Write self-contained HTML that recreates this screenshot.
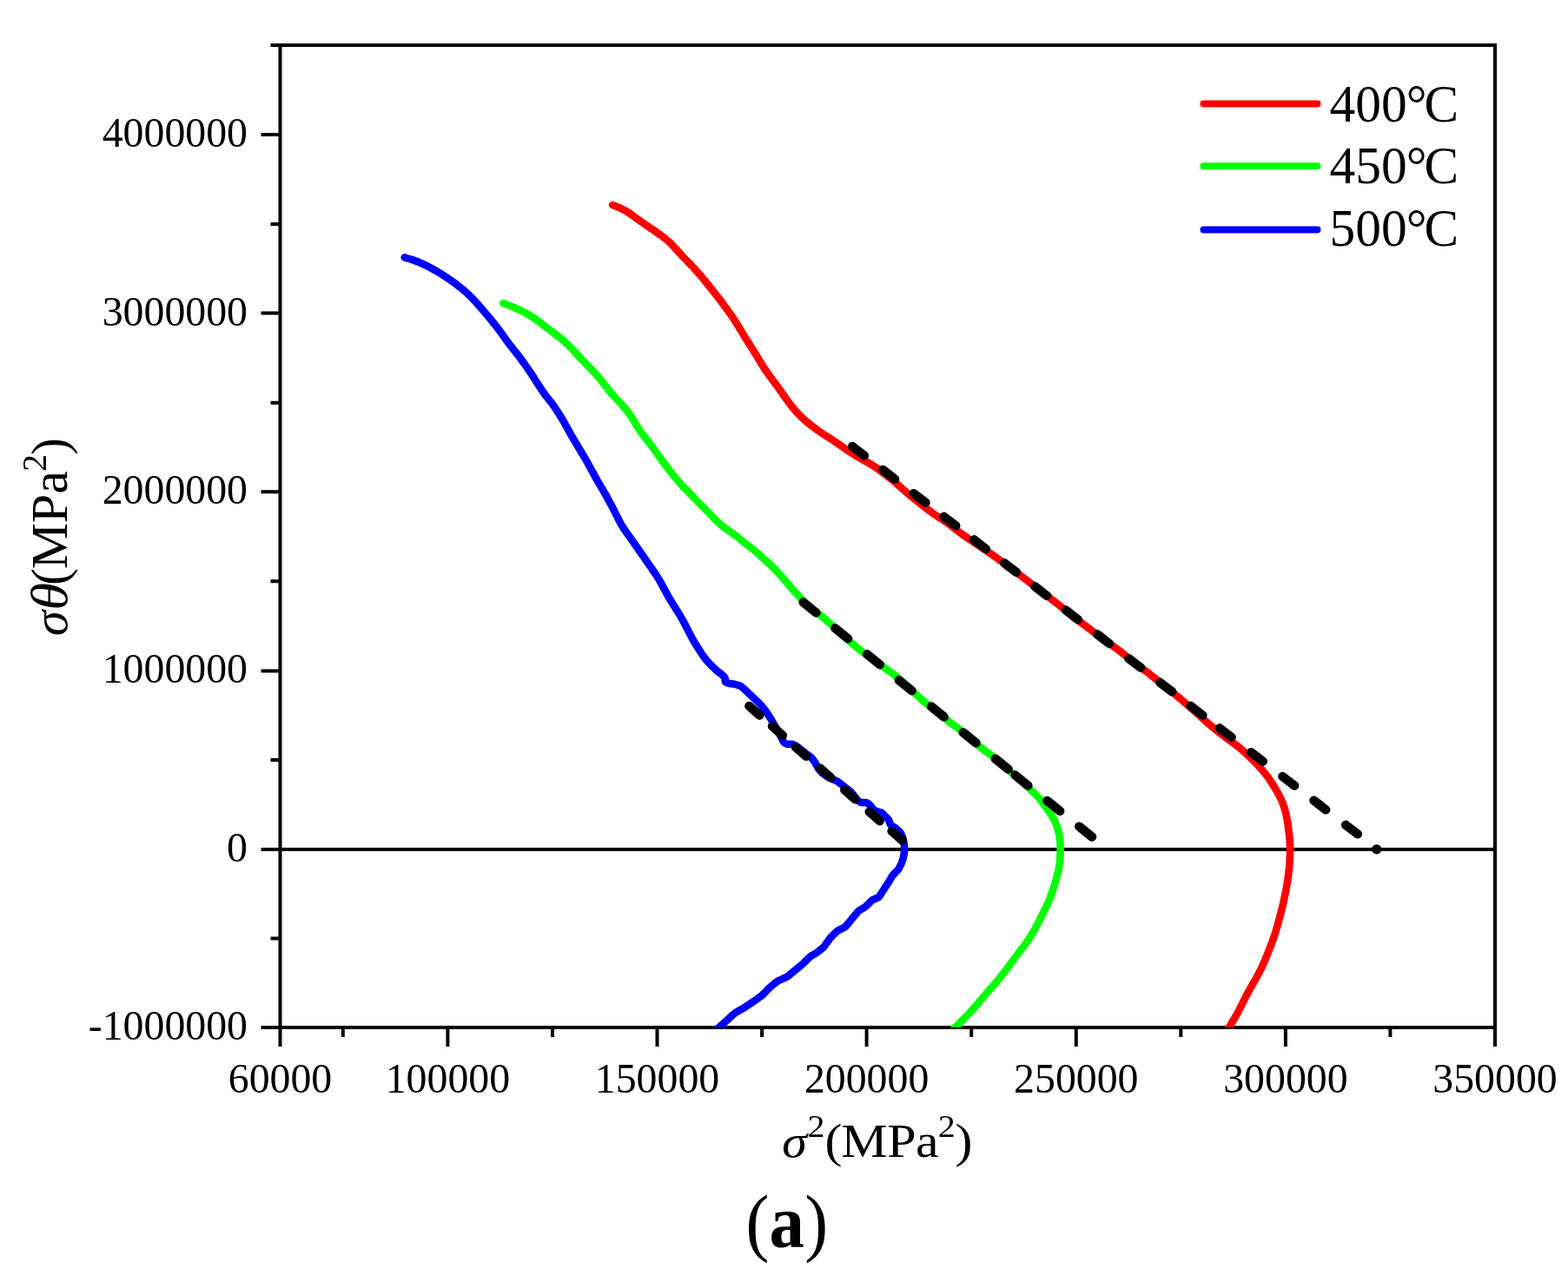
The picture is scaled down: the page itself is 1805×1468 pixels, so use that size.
<!DOCTYPE html>
<html lang="en"><head><meta charset="utf-8"><title>Figure (a)</title>
<style>
html,body{margin:0;padding:0;background:#fff;}
body{width:1805px;height:1468px;overflow:hidden;}
svg{display:block;}
text{font-family:"Liberation Serif","DejaVu Serif",serif;fill:#000;}
.tk{font-size:47.8px;}
.lg{font-size:61.5px;}
.ti{font-size:52px;}
.it{font-style:italic;}
</style></head><body>
<svg width="1805" height="1468" viewBox="0 0 1805 1468">
<rect x="0" y="0" width="1805" height="1468" fill="#ffffff"/>
<defs><clipPath id="plot"><rect x="322.5" y="52.0" width="1398.5" height="1131.0"/></clipPath></defs>
<g stroke="#000" stroke-width="4" fill="none" stroke-linecap="butt">
<path d="M322.5,52.0 H1721.0 V1183.0 H322.5 Z" stroke-linejoin="miter"/>
<path d="M322.5,978.0 H1721.0" stroke-width="4.1"/>
<path d="M300.5,1183.0 H322.5 M300.5,978.1 H322.5 M300.5,772.4 H322.5 M300.5,566.2 H322.5 M300.5,360.6 H322.5 M300.5,155.0 H322.5 M311.5,1080.5 H322.5 M311.5,874.9 H322.5 M311.5,669.3 H322.5 M311.5,463.7 H322.5 M311.5,258.1 H322.5 M311.5,52.0 H322.5"/>
<path d="M322.5,1183.0 V1205.0 M515.4,1183.0 V1205.0 M756.5,1183.0 V1205.0 M997.6,1183.0 V1205.0 M1238.8,1183.0 V1205.0 M1479.9,1183.0 V1205.0 M1721.0,1183.0 V1205.0 M394.8,1183.0 V1194.0 M636.0,1183.0 V1194.0 M877.1,1183.0 V1194.0 M1118.2,1183.0 V1194.0 M1359.3,1183.0 V1194.0 M1600.4,1183.0 V1194.0"/>
</g>
<g clip-path="url(#plot)" fill="none" stroke-linecap="round" stroke-linejoin="round" stroke-width="8.6">
<path stroke="#ff0000" d="M705.1,236.0C705.7,236.2 707.6,237.0 708.8,237.4C710.1,237.9 711.3,238.4 712.5,239.0C713.7,239.5 715.0,240.0 716.1,240.6C717.3,241.2 718.5,241.8 719.7,242.5C720.8,243.1 722.0,243.8 723.1,244.5C724.2,245.2 725.3,246.0 726.4,246.7C727.5,247.5 728.5,248.3 729.6,249.1C730.7,249.9 731.8,250.7 732.8,251.4C733.9,252.2 735.0,253.0 736.1,253.8C737.1,254.6 738.2,255.3 739.3,256.1C740.4,256.9 741.5,257.6 742.6,258.4C743.7,259.1 744.8,259.9 745.9,260.6C747.0,261.4 748.1,262.1 749.2,262.9C750.3,263.6 751.4,264.4 752.5,265.1C753.6,265.9 754.7,266.7 755.8,267.4C756.9,268.2 758.0,269.0 759.1,269.7C760.2,270.5 761.2,271.3 762.3,272.1C763.4,272.9 764.4,273.7 765.5,274.5C766.5,275.3 767.5,276.2 768.5,277.1C769.5,277.9 770.5,278.8 771.5,279.8C772.4,280.7 773.4,281.6 774.3,282.6C775.2,283.6 776.1,284.5 777.0,285.5C777.9,286.5 778.8,287.5 779.7,288.5C780.6,289.5 781.5,290.5 782.4,291.4C783.3,292.4 784.2,293.4 785.1,294.4C786.0,295.4 786.9,296.3 787.8,297.3C788.8,298.3 789.7,299.2 790.6,300.2C791.5,301.1 792.5,302.1 793.4,303.0C794.3,304.0 795.2,305.0 796.2,305.9C797.1,306.9 798.0,307.9 798.9,308.8C799.8,309.8 800.7,310.8 801.6,311.8C802.5,312.8 803.4,313.8 804.3,314.8C805.1,315.8 806.0,316.8 806.9,317.8C807.7,318.8 808.6,319.8 809.5,320.9C810.3,321.9 811.2,322.9 812.0,323.9C812.8,325.0 813.7,326.0 814.5,327.0C815.4,328.1 816.2,329.1 817.0,330.2C817.8,331.2 818.7,332.3 819.5,333.3C820.3,334.4 821.1,335.4 822.0,336.5C822.8,337.5 823.6,338.5 824.4,339.6C825.3,340.6 826.1,341.7 826.9,342.8C827.7,343.8 828.5,344.9 829.3,345.9C830.1,347.0 830.9,348.1 831.7,349.1C832.5,350.2 833.3,351.3 834.1,352.4C834.9,353.4 835.7,354.5 836.4,355.6C837.2,356.7 838.0,357.7 838.8,358.8C839.6,359.9 840.3,361.0 841.1,362.1C841.9,363.2 842.6,364.3 843.4,365.4C844.1,366.5 844.9,367.6 845.6,368.7C846.3,369.8 847.0,370.9 847.7,372.1C848.5,373.2 849.2,374.3 849.9,375.5C850.5,376.6 851.2,377.8 851.9,378.9C852.6,380.0 853.3,381.2 854.0,382.3C854.7,383.5 855.4,384.6 856.0,385.7C856.7,386.9 857.4,388.0 858.1,389.2C858.9,390.3 859.6,391.4 860.3,392.5C861.0,393.7 861.7,394.8 862.4,395.9C863.1,397.1 863.8,398.2 864.5,399.3C865.3,400.4 866.0,401.6 866.7,402.7C867.4,403.8 868.1,405.0 868.8,406.1C869.5,407.2 870.2,408.4 870.9,409.5C871.6,410.6 872.2,411.8 872.9,412.9C873.6,414.1 874.3,415.2 875.0,416.4C875.7,417.5 876.4,418.6 877.1,419.8C877.8,420.9 878.5,422.0 879.2,423.1C879.9,424.3 880.7,425.4 881.4,426.5C882.2,427.6 882.9,428.7 883.7,429.8C884.5,430.8 885.3,431.9 886.1,433.0C886.9,434.1 887.7,435.1 888.5,436.2C889.3,437.3 890.1,438.3 890.9,439.4C891.7,440.5 892.5,441.5 893.2,442.6C894.0,443.7 894.8,444.7 895.6,445.8C896.4,446.9 897.2,448.0 897.9,449.1C898.7,450.2 899.5,451.3 900.2,452.4C901.0,453.4 901.8,454.5 902.5,455.6C903.3,456.7 904.1,457.8 904.8,458.9C905.6,460.0 906.4,461.1 907.1,462.2C907.9,463.2 908.7,464.3 909.5,465.4C910.3,466.4 911.1,467.5 912.0,468.5C912.8,469.6 913.6,470.6 914.5,471.6C915.4,472.6 916.3,473.6 917.2,474.6C918.1,475.6 919.0,476.5 919.9,477.5C920.8,478.4 921.8,479.4 922.7,480.3C923.7,481.2 924.7,482.1 925.7,483.0C926.6,483.9 927.6,484.8 928.6,485.7C929.7,486.6 930.7,487.4 931.7,488.2C932.8,489.1 933.8,489.9 934.9,490.7C935.9,491.5 937.0,492.3 938.1,493.1C939.1,493.9 940.2,494.6 941.3,495.4C942.4,496.2 943.5,496.9 944.6,497.7C945.7,498.4 946.8,499.2 947.9,499.9C949.1,500.6 950.2,501.4 951.3,502.1C952.4,502.8 953.6,503.5 954.7,504.2C955.8,504.9 956.9,505.7 958.0,506.4C959.1,507.1 960.3,507.9 961.4,508.6C962.5,509.4 963.6,510.1 964.7,510.9C965.8,511.6 966.9,512.4 967.9,513.1C969.0,513.9 970.1,514.7 971.2,515.4C972.3,516.2 973.4,517.0 974.5,517.7C975.6,518.5 976.7,519.2 977.8,519.9C978.9,520.7 980.1,521.4 981.2,522.1C982.3,522.9 983.4,523.6 984.6,524.3C985.7,525.0 986.8,525.6 988.0,526.3C989.1,527.0 990.3,527.6 991.5,528.3C992.6,529.0 993.8,529.6 994.9,530.3C996.1,530.9 997.3,531.5 998.4,532.2C999.6,532.9 1000.8,533.5 1001.9,534.2C1003.0,534.9 1004.2,535.6 1005.3,536.3C1006.4,537.0 1007.5,537.7 1008.6,538.5C1009.7,539.3 1010.8,540.0 1011.9,540.8C1012.9,541.6 1014.0,542.4 1015.0,543.2C1016.1,544.1 1017.1,544.9 1018.2,545.7C1019.3,546.5 1020.3,547.3 1021.4,548.1C1022.4,549.0 1023.5,549.7 1024.5,550.6C1025.6,551.4 1026.6,552.2 1027.7,553.0C1028.7,553.9 1029.7,554.7 1030.7,555.6C1031.7,556.5 1032.7,557.3 1033.7,558.2C1034.7,559.1 1035.7,560.0 1036.7,560.9C1037.7,561.8 1038.7,562.7 1039.7,563.6C1040.7,564.5 1041.7,565.3 1042.7,566.2C1043.7,567.1 1044.7,567.9 1045.7,568.8C1046.8,569.6 1047.8,570.5 1048.8,571.3C1049.9,572.2 1050.9,573.0 1051.9,573.8C1053.0,574.7 1054.0,575.5 1055.1,576.3C1056.1,577.1 1057.2,578.0 1058.2,578.8C1059.2,579.6 1060.3,580.5 1061.3,581.3C1062.4,582.1 1063.4,583.0 1064.5,583.8C1065.5,584.6 1066.6,585.4 1067.6,586.3C1068.7,587.1 1069.7,587.9 1070.8,588.7C1071.8,589.5 1072.9,590.3 1074.0,591.1C1075.1,591.8 1076.2,592.6 1077.3,593.3C1078.4,594.1 1079.5,594.8 1080.6,595.5C1081.7,596.3 1082.9,597.0 1084.0,597.7C1085.1,598.4 1086.2,599.1 1087.3,599.9C1088.4,600.6 1089.5,601.4 1090.6,602.1C1091.7,602.9 1092.8,603.7 1093.8,604.5C1094.9,605.3 1096.0,606.1 1097.0,606.9C1098.1,607.7 1099.1,608.6 1100.2,609.4C1101.2,610.2 1102.2,611.0 1103.3,611.9C1104.4,612.7 1105.4,613.5 1106.5,614.3C1107.6,615.1 1108.6,615.9 1109.7,616.6C1110.8,617.4 1111.9,618.2 1113.0,618.9C1114.1,619.7 1115.2,620.4 1116.3,621.2C1117.4,621.9 1118.5,622.7 1119.6,623.4C1120.7,624.1 1121.8,624.9 1122.9,625.6C1124.1,626.4 1125.2,627.1 1126.3,627.9C1127.4,628.6 1128.5,629.4 1129.6,630.1C1130.7,630.8 1131.8,631.6 1132.9,632.3C1134.0,633.1 1135.1,633.8 1136.2,634.6C1137.3,635.3 1138.4,636.1 1139.5,636.8C1140.6,637.6 1141.7,638.4 1142.8,639.1C1143.9,639.9 1145.0,640.7 1146.1,641.4C1147.1,642.2 1148.2,643.0 1149.3,643.8C1150.4,644.6 1151.5,645.3 1152.5,646.1C1153.6,646.9 1154.7,647.7 1155.8,648.5C1156.8,649.3 1157.9,650.1 1159.0,650.9C1160.1,651.7 1161.1,652.4 1162.2,653.2C1163.3,654.0 1164.3,654.8 1165.4,655.6C1166.5,656.4 1167.6,657.2 1168.6,658.0C1169.7,658.8 1170.8,659.6 1171.8,660.4C1172.9,661.2 1174.0,662.0 1175.0,662.8C1176.1,663.6 1177.2,664.4 1178.2,665.2C1179.3,666.0 1180.4,666.8 1181.4,667.6C1182.5,668.4 1183.5,669.2 1184.6,670.1C1185.6,670.9 1186.7,671.7 1187.8,672.5C1188.8,673.3 1189.9,674.1 1190.9,674.9C1192.0,675.8 1193.0,676.6 1194.1,677.4C1195.1,678.2 1196.2,679.0 1197.3,679.8C1198.3,680.6 1199.4,681.4 1200.4,682.3C1201.5,683.1 1202.6,683.9 1203.6,684.7C1204.7,685.5 1205.7,686.3 1206.8,687.1C1207.8,687.9 1208.9,688.7 1210.0,689.6C1211.0,690.4 1212.1,691.2 1213.1,692.0C1214.2,692.8 1215.2,693.6 1216.3,694.4C1217.3,695.3 1218.4,696.1 1219.4,696.9C1220.5,697.7 1221.5,698.6 1222.6,699.4C1223.6,700.2 1224.7,701.0 1225.7,701.9C1226.8,702.7 1227.8,703.5 1228.9,704.3C1229.9,705.2 1231.0,706.0 1232.0,706.8C1233.0,707.7 1234.1,708.5 1235.1,709.3C1236.2,710.1 1237.2,711.0 1238.3,711.8C1239.3,712.6 1240.3,713.5 1241.4,714.3C1242.4,715.1 1243.5,716.0 1244.5,716.8C1245.6,717.6 1246.6,718.4 1247.7,719.2C1248.7,720.0 1249.8,720.8 1250.9,721.6C1251.9,722.4 1253.0,723.2 1254.1,724.0C1255.2,724.8 1256.2,725.6 1257.3,726.4C1258.4,727.2 1259.5,728.0 1260.5,728.7C1261.6,729.5 1262.7,730.3 1263.8,731.1C1264.9,731.9 1265.9,732.7 1267.0,733.4C1268.1,734.2 1269.2,735.0 1270.3,735.8C1271.3,736.6 1272.4,737.4 1273.5,738.1C1274.6,738.9 1275.6,739.7 1276.7,740.5C1277.8,741.3 1278.9,742.1 1280.0,742.9C1281.0,743.6 1282.1,744.4 1283.2,745.2C1284.3,746.0 1285.3,746.8 1286.4,747.6C1287.4,748.4 1288.5,749.2 1289.6,750.0C1290.6,750.9 1291.7,751.7 1292.7,752.5C1293.8,753.3 1294.8,754.2 1295.8,755.0C1296.9,755.8 1297.9,756.7 1299.0,757.5C1300.0,758.3 1301.0,759.2 1302.1,760.0C1303.1,760.8 1304.2,761.7 1305.2,762.5C1306.3,763.3 1307.3,764.1 1308.4,764.9C1309.5,765.7 1310.5,766.5 1311.6,767.3C1312.7,768.1 1313.7,768.9 1314.8,769.7C1315.9,770.5 1317.0,771.3 1318.0,772.1C1319.1,772.9 1320.2,773.7 1321.2,774.5C1322.3,775.3 1323.3,776.1 1324.4,776.9C1325.5,777.7 1326.5,778.5 1327.6,779.4C1328.6,780.2 1329.6,781.0 1330.7,781.9C1331.7,782.7 1332.8,783.5 1333.8,784.4C1334.8,785.2 1335.9,786.0 1336.9,786.9C1337.9,787.7 1339.0,788.6 1340.0,789.4C1341.1,790.2 1342.1,791.1 1343.1,791.9C1344.2,792.7 1345.2,793.6 1346.2,794.4C1347.3,795.2 1348.3,796.1 1349.4,796.9C1350.4,797.7 1351.4,798.6 1352.5,799.4C1353.5,800.3 1354.6,801.1 1355.6,801.9C1356.6,802.8 1357.7,803.6 1358.7,804.5C1359.7,805.3 1360.7,806.2 1361.7,807.1C1362.8,807.9 1363.8,808.8 1364.8,809.7C1365.8,810.5 1366.8,811.4 1367.8,812.3C1368.8,813.2 1369.8,814.0 1370.8,814.9C1371.8,815.8 1372.8,816.7 1373.8,817.6C1374.8,818.5 1375.8,819.4 1376.8,820.2C1377.8,821.1 1378.7,822.0 1379.7,822.9C1380.7,823.8 1381.7,824.7 1382.7,825.6C1383.7,826.5 1384.7,827.4 1385.6,828.3C1386.6,829.2 1387.6,830.1 1388.6,831.0C1389.6,831.9 1390.6,832.8 1391.6,833.6C1392.6,834.5 1393.7,835.4 1394.7,836.2C1395.7,837.1 1396.7,837.9 1397.8,838.8C1398.8,839.6 1399.8,840.5 1400.9,841.3C1401.9,842.1 1402.9,843.0 1404.0,843.8C1405.0,844.6 1406.1,845.4 1407.2,846.2C1408.2,847.0 1409.3,847.8 1410.4,848.6C1411.4,849.4 1412.5,850.2 1413.6,851.0C1414.7,851.7 1415.8,852.5 1416.8,853.3C1417.9,854.1 1419.0,854.9 1420.1,855.7C1421.1,856.5 1422.2,857.3 1423.2,858.1C1424.3,858.9 1425.3,859.7 1426.4,860.6C1427.4,861.4 1428.4,862.3 1429.4,863.1C1430.5,864.0 1431.5,864.9 1432.4,865.8C1433.4,866.7 1434.4,867.6 1435.4,868.5C1436.4,869.4 1437.3,870.3 1438.3,871.2C1439.2,872.2 1440.2,873.1 1441.1,874.0C1442.1,875.0 1443.0,875.9 1444.0,876.9C1444.9,877.8 1445.8,878.8 1446.8,879.7C1447.7,880.7 1448.6,881.7 1449.5,882.6C1450.4,883.6 1451.3,884.6 1452.2,885.6C1453.1,886.6 1453.9,887.6 1454.8,888.6C1455.6,889.7 1456.5,890.7 1457.3,891.7C1458.1,892.8 1458.9,893.8 1459.7,894.9C1460.5,896.0 1461.2,897.1 1462.0,898.2C1462.7,899.3 1463.4,900.4 1464.1,901.6C1464.8,902.7 1465.5,903.8 1466.2,905.0C1466.9,906.1 1467.6,907.2 1468.3,908.4C1468.9,909.5 1469.6,910.7 1470.3,911.9C1470.9,913.0 1471.6,914.2 1472.2,915.4C1472.8,916.5 1473.4,917.7 1474.0,918.9C1474.6,920.1 1475.1,921.3 1475.7,922.5C1476.2,923.8 1476.7,925.0 1477.1,926.2C1477.6,927.5 1478.0,928.8 1478.4,930.0C1478.8,931.3 1479.2,932.6 1479.5,933.9C1479.8,935.1 1480.2,936.4 1480.5,937.7C1480.7,939.0 1481.0,940.3 1481.3,941.6C1481.5,943.0 1481.8,944.3 1482.0,945.6C1482.2,946.9 1482.4,948.2 1482.6,949.5C1482.8,950.9 1482.9,952.2 1483.1,953.5C1483.3,954.8 1483.5,956.1 1483.6,957.5C1483.8,958.8 1483.9,960.1 1484.1,961.4C1484.2,962.8 1484.4,964.1 1484.5,965.4C1484.6,966.7 1484.7,968.1 1484.8,969.4C1484.9,970.7 1485.0,972.0 1485.0,973.4C1485.1,974.7 1485.1,976.0 1485.1,977.4C1485.1,978.7 1485.1,980.0 1485.0,981.4C1485.0,982.7 1485.0,984.0 1484.9,985.4C1484.9,986.7 1484.8,988.0 1484.7,989.4C1484.7,990.7 1484.6,992.0 1484.5,993.3C1484.4,994.7 1484.3,996.0 1484.2,997.3C1484.1,998.7 1483.9,1000.0 1483.8,1001.3C1483.7,1002.6 1483.5,1004.0 1483.4,1005.3C1483.2,1006.6 1483.0,1007.9 1482.9,1009.3C1482.7,1010.6 1482.5,1011.9 1482.3,1013.2C1482.1,1014.5 1481.9,1015.8 1481.7,1017.2C1481.4,1018.5 1481.2,1019.8 1481.0,1021.1C1480.7,1022.4 1480.5,1023.7 1480.3,1025.0C1480.0,1026.3 1479.8,1027.7 1479.5,1029.0C1479.3,1030.3 1479.0,1031.6 1478.7,1032.9C1478.5,1034.2 1478.2,1035.5 1477.9,1036.8C1477.6,1038.1 1477.3,1039.4 1477.0,1040.7C1476.7,1042.0 1476.4,1043.3 1476.1,1044.6C1475.7,1045.9 1475.4,1047.2 1475.1,1048.5C1474.8,1049.7 1474.4,1051.0 1474.1,1052.3C1473.8,1053.6 1473.4,1054.9 1473.1,1056.2C1472.7,1057.5 1472.4,1058.8 1472.1,1060.1C1471.7,1061.4 1471.4,1062.6 1471.0,1063.9C1470.7,1065.2 1470.3,1066.5 1469.9,1067.8C1469.5,1069.1 1469.2,1070.3 1468.8,1071.6C1468.4,1072.9 1468.0,1074.1 1467.6,1075.4C1467.1,1076.7 1466.7,1077.9 1466.3,1079.2C1465.9,1080.5 1465.4,1081.7 1465.0,1083.0C1464.5,1084.2 1464.1,1085.5 1463.6,1086.7C1463.1,1088.0 1462.7,1089.2 1462.2,1090.5C1461.7,1091.7 1461.2,1093.0 1460.7,1094.2C1460.3,1095.5 1459.8,1096.7 1459.3,1097.9C1458.8,1099.2 1458.3,1100.4 1457.8,1101.6C1457.3,1102.9 1456.8,1104.1 1456.2,1105.3C1455.7,1106.6 1455.2,1107.8 1454.6,1109.0C1454.1,1110.2 1453.6,1111.4 1453.0,1112.6C1452.4,1113.9 1451.9,1115.1 1451.3,1116.3C1450.7,1117.4 1450.1,1118.6 1449.5,1119.8C1448.9,1121.0 1448.2,1122.2 1447.6,1123.3C1447.0,1124.5 1446.3,1125.7 1445.7,1126.8C1445.0,1128.0 1444.3,1129.2 1443.7,1130.3C1443.0,1131.5 1442.4,1132.6 1441.7,1133.8C1441.0,1134.9 1440.4,1136.1 1439.7,1137.3C1439.1,1138.4 1438.4,1139.6 1437.8,1140.8C1437.1,1141.9 1436.5,1143.1 1435.9,1144.3C1435.2,1145.4 1434.6,1146.6 1434.0,1147.8C1433.4,1149.0 1432.8,1150.2 1432.2,1151.4C1431.6,1152.6 1431.0,1153.8 1430.4,1155.0C1429.8,1156.1 1429.2,1157.3 1428.6,1158.5C1428.0,1159.7 1427.4,1160.9 1426.8,1162.1C1426.2,1163.3 1425.6,1164.5 1425.0,1165.6C1424.3,1166.8 1423.7,1168.0 1423.0,1169.1C1422.4,1170.3 1421.7,1171.5 1421.0,1172.6C1420.4,1173.8 1419.7,1174.9 1419.0,1176.0C1418.3,1177.2 1417.6,1178.3 1416.9,1179.4C1416.2,1180.6 1415.5,1181.7 1414.8,1182.8C1414.1,1184.0 1413.3,1185.3 1412.7,1186.2C1412.1,1187.2 1411.4,1188.4 1411.1,1188.8"/>
<path stroke="#00ff00" d="M579.2,349.2C579.8,349.4 581.7,350.1 583.0,350.5C584.2,351.0 585.5,351.4 586.7,351.9C588.0,352.4 589.2,352.9 590.4,353.4C591.6,353.9 592.9,354.5 594.1,355.0C595.3,355.6 596.5,356.2 597.7,356.7C598.9,357.3 600.1,357.9 601.3,358.5C602.5,359.1 603.6,359.7 604.8,360.4C606.0,361.0 607.2,361.6 608.3,362.3C609.5,362.9 610.6,363.6 611.8,364.3C612.9,365.0 614.0,365.7 615.1,366.5C616.2,367.2 617.3,368.0 618.3,368.8C619.4,369.6 620.5,370.4 621.5,371.2C622.6,372.0 623.6,372.9 624.7,373.7C625.7,374.5 626.8,375.3 627.8,376.1C628.9,376.9 629.9,377.7 631.0,378.5C632.1,379.3 633.2,380.1 634.2,380.9C635.3,381.7 636.4,382.5 637.5,383.3C638.5,384.1 639.6,384.9 640.6,385.7C641.7,386.5 642.7,387.3 643.8,388.2C644.8,389.0 645.8,389.9 646.8,390.7C647.9,391.6 648.9,392.4 649.9,393.3C650.9,394.2 651.9,395.1 652.8,396.0C653.8,396.9 654.8,397.8 655.7,398.7C656.7,399.7 657.6,400.6 658.5,401.6C659.5,402.5 660.3,403.5 661.2,404.5C662.1,405.5 663.0,406.5 663.9,407.5C664.8,408.5 665.7,409.5 666.6,410.5C667.5,411.5 668.4,412.4 669.3,413.4C670.2,414.4 671.1,415.3 672.1,416.3C673.0,417.3 673.9,418.2 674.9,419.1C675.8,420.1 676.7,421.0 677.7,422.0C678.6,422.9 679.5,423.9 680.5,424.9C681.4,425.8 682.3,426.8 683.2,427.8C684.1,428.7 685.0,429.7 685.9,430.7C686.8,431.7 687.6,432.7 688.5,433.7C689.4,434.8 690.2,435.8 691.1,436.8C691.9,437.8 692.7,438.9 693.6,439.9C694.4,441.0 695.2,442.1 696.0,443.1C696.8,444.2 697.6,445.2 698.4,446.3C699.2,447.3 700.0,448.4 700.9,449.4C701.7,450.5 702.6,451.5 703.4,452.5C704.3,453.5 705.2,454.5 706.1,455.5C707.0,456.5 707.9,457.4 708.8,458.4C709.7,459.4 710.7,460.3 711.6,461.3C712.5,462.3 713.4,463.2 714.3,464.2C715.2,465.2 716.1,466.2 717.0,467.2C717.9,468.2 718.8,469.2 719.6,470.2C720.5,471.2 721.3,472.2 722.1,473.3C722.9,474.3 723.7,475.4 724.5,476.5C725.3,477.6 726.0,478.7 726.7,479.8C727.4,480.9 728.1,482.1 728.8,483.2C729.5,484.3 730.2,485.5 730.9,486.6C731.6,487.8 732.2,488.9 732.9,490.0C733.6,491.2 734.4,492.3 735.1,493.4C735.8,494.5 736.6,495.6 737.3,496.7C738.1,497.8 738.9,498.9 739.7,499.9C740.5,501.0 741.3,502.1 742.1,503.1C742.9,504.2 743.8,505.2 744.6,506.3C745.4,507.3 746.2,508.4 747.0,509.4C747.8,510.5 748.7,511.5 749.5,512.6C750.3,513.7 751.1,514.7 751.9,515.8C752.7,516.9 753.4,517.9 754.2,519.0C755.0,520.1 755.7,521.2 756.5,522.3C757.3,523.4 758.0,524.5 758.8,525.6C759.5,526.7 760.3,527.8 761.1,528.8C761.9,529.9 762.7,531.0 763.5,532.0C764.3,533.1 765.1,534.2 765.9,535.2C766.7,536.3 767.5,537.4 768.3,538.4C769.1,539.5 769.9,540.5 770.7,541.6C771.5,542.7 772.4,543.7 773.2,544.8C774.0,545.8 774.8,546.9 775.7,547.9C776.5,548.9 777.3,550.0 778.2,551.0C779.0,552.0 779.9,553.0 780.8,554.0C781.7,555.0 782.6,556.0 783.5,557.0C784.4,558.0 785.3,558.9 786.2,559.9C787.1,560.9 788.1,561.8 789.0,562.8C789.9,563.7 790.9,564.6 791.8,565.6C792.8,566.6 793.7,567.5 794.6,568.5C795.5,569.4 796.4,570.4 797.3,571.4C798.3,572.3 799.2,573.3 800.1,574.3C801.0,575.3 801.9,576.2 802.8,577.2C803.8,578.1 804.7,579.1 805.6,580.0C806.6,581.0 807.5,581.9 808.5,582.9C809.4,583.8 810.3,584.8 811.3,585.7C812.2,586.7 813.2,587.6 814.1,588.5C815.1,589.5 816.0,590.4 816.9,591.4C817.9,592.3 818.8,593.3 819.7,594.3C820.6,595.2 821.5,596.2 822.5,597.1C823.4,598.1 824.3,599.1 825.3,600.0C826.2,600.9 827.2,601.9 828.1,602.7C829.1,603.6 830.1,604.5 831.2,605.3C832.2,606.1 833.3,606.9 834.3,607.7C835.4,608.5 836.5,609.3 837.6,610.0C838.7,610.8 839.8,611.5 840.9,612.3C842.0,613.0 843.1,613.8 844.1,614.6C845.2,615.4 846.3,616.2 847.3,617.0C848.4,617.8 849.4,618.7 850.5,619.5C851.5,620.3 852.5,621.2 853.5,622.0C854.6,622.9 855.6,623.7 856.6,624.6C857.7,625.4 858.7,626.2 859.8,627.0C860.8,627.8 861.9,628.6 863.0,629.4C864.0,630.3 865.1,631.1 866.1,631.9C867.2,632.7 868.2,633.6 869.2,634.4C870.2,635.3 871.2,636.2 872.2,637.0C873.2,637.9 874.2,638.8 875.2,639.7C876.2,640.6 877.1,641.5 878.1,642.4C879.1,643.3 880.1,644.2 881.1,645.1C882.1,646.0 883.1,646.8 884.1,647.7C885.1,648.6 886.1,649.5 887.0,650.4C888.0,651.4 888.9,652.3 889.9,653.2C890.8,654.2 891.7,655.1 892.7,656.1C893.6,657.1 894.5,658.0 895.4,659.0C896.3,660.0 897.2,661.0 898.1,662.0C899.0,662.9 899.9,663.9 900.8,664.9C901.7,665.9 902.6,666.9 903.4,667.9C904.3,668.9 905.1,670.0 906.0,671.0C906.9,672.0 907.7,673.0 908.6,674.0C909.4,675.1 910.3,676.1 911.2,677.1C912.0,678.1 912.9,679.1 913.8,680.1C914.7,681.1 915.6,682.1 916.5,683.1C917.4,684.0 918.2,685.0 919.2,686.0C920.1,687.0 921.0,688.0 921.9,688.9C922.8,689.9 923.7,690.8 924.7,691.8C925.6,692.7 926.6,693.6 927.6,694.5C928.6,695.4 929.6,696.3 930.6,697.2C931.6,698.1 932.6,698.9 933.6,699.8C934.6,700.7 935.6,701.5 936.7,702.3C937.7,703.2 938.8,704.0 939.8,704.8C940.8,705.7 941.9,706.5 942.9,707.3C944.0,708.1 945.0,709.0 946.1,709.8C947.1,710.6 948.1,711.5 949.2,712.3C950.2,713.2 951.2,714.0 952.2,714.9C953.3,715.8 954.3,716.6 955.2,717.5C956.2,718.4 957.2,719.3 958.2,720.2C959.2,721.1 960.1,722.1 961.1,723.0C962.1,723.9 963.0,724.8 964.0,725.7C964.9,726.7 965.9,727.6 966.9,728.5C967.8,729.4 968.8,730.3 969.8,731.2C970.8,732.1 971.8,733.0 972.8,733.9C973.8,734.8 974.8,735.6 975.8,736.5C976.8,737.4 977.8,738.2 978.8,739.1C979.9,740.0 980.9,740.8 981.9,741.7C982.9,742.6 983.9,743.4 984.9,744.3C986.0,745.1 987.0,746.0 988.0,746.8C989.1,747.6 990.1,748.5 991.2,749.3C992.2,750.1 993.3,750.9 994.4,751.7C995.4,752.5 996.5,753.3 997.6,754.1C998.7,754.9 999.7,755.6 1000.8,756.4C1001.9,757.2 1003.0,758.0 1004.1,758.8C1005.1,759.5 1006.2,760.3 1007.3,761.1C1008.4,761.9 1009.5,762.7 1010.5,763.5C1011.6,764.2 1012.7,765.0 1013.8,765.8C1014.9,766.6 1015.9,767.4 1017.0,768.1C1018.1,768.9 1019.2,769.7 1020.3,770.4C1021.4,771.2 1022.5,772.0 1023.6,772.7C1024.7,773.5 1025.8,774.2 1026.8,775.0C1027.9,775.8 1029.0,776.6 1030.0,777.4C1031.1,778.2 1032.1,779.1 1033.1,779.9C1034.1,780.8 1035.2,781.6 1036.1,782.5C1037.1,783.4 1038.1,784.3 1039.1,785.2C1040.1,786.1 1041.1,787.0 1042.0,788.0C1043.0,788.9 1043.9,789.8 1044.9,790.7C1045.8,791.7 1046.8,792.6 1047.8,793.5C1048.7,794.4 1049.7,795.3 1050.7,796.2C1051.7,797.1 1052.6,798.0 1053.6,798.9C1054.6,799.8 1055.7,800.7 1056.7,801.5C1057.7,802.4 1058.7,803.3 1059.7,804.2C1060.7,805.0 1061.7,805.9 1062.7,806.8C1063.7,807.7 1064.7,808.6 1065.7,809.4C1066.7,810.3 1067.7,811.1 1068.8,811.9C1069.8,812.8 1070.9,813.6 1071.9,814.4C1073.0,815.2 1074.0,816.0 1075.1,816.9C1076.1,817.7 1077.2,818.5 1078.2,819.3C1079.3,820.1 1080.3,821.0 1081.4,821.8C1082.4,822.7 1083.4,823.5 1084.5,824.4C1085.5,825.2 1086.5,826.1 1087.5,826.9C1088.6,827.7 1089.6,828.6 1090.6,829.4C1091.7,830.2 1092.7,831.1 1093.8,831.9C1094.9,832.7 1095.9,833.5 1097.0,834.2C1098.1,835.0 1099.2,835.8 1100.3,836.6C1101.3,837.3 1102.4,838.1 1103.5,838.9C1104.5,839.7 1105.6,840.5 1106.6,841.4C1107.7,842.2 1108.7,843.1 1109.7,843.9C1110.7,844.8 1111.7,845.7 1112.7,846.6C1113.7,847.5 1114.7,848.4 1115.7,849.2C1116.6,850.1 1117.6,851.0 1118.6,851.9C1119.6,852.8 1120.6,853.7 1121.6,854.6C1122.6,855.4 1123.6,856.3 1124.7,857.2C1125.7,858.0 1126.7,858.9 1127.7,859.7C1128.8,860.6 1129.8,861.4 1130.9,862.2C1131.9,863.0 1133.0,863.7 1134.1,864.5C1135.2,865.3 1136.3,866.0 1137.4,866.8C1138.5,867.5 1139.6,868.3 1140.6,869.1C1141.7,869.9 1142.8,870.7 1143.8,871.5C1144.8,872.4 1145.9,873.2 1146.9,874.1C1147.9,875.0 1148.9,875.8 1149.9,876.7C1150.9,877.6 1151.9,878.5 1152.9,879.4C1153.9,880.3 1154.8,881.2 1155.8,882.0C1156.8,882.9 1157.8,883.8 1158.8,884.7C1159.8,885.6 1160.8,886.5 1161.8,887.4C1162.8,888.3 1163.8,889.1 1164.8,890.0C1165.8,890.9 1166.8,891.7 1167.8,892.6C1168.9,893.5 1169.9,894.3 1170.9,895.2C1171.9,896.1 1172.9,897.0 1173.9,897.8C1174.9,898.7 1175.9,899.6 1176.9,900.5C1177.9,901.4 1178.9,902.3 1179.8,903.2C1180.8,904.1 1181.8,905.0 1182.8,905.9C1183.8,906.8 1184.7,907.7 1185.7,908.6C1186.7,909.5 1187.7,910.4 1188.6,911.4C1189.6,912.3 1190.6,913.2 1191.5,914.1C1192.5,915.0 1193.4,916.0 1194.3,917.0C1195.2,917.9 1196.1,918.9 1197.0,919.9C1197.8,921.0 1198.6,922.0 1199.4,923.1C1200.3,924.1 1201.0,925.2 1201.8,926.3C1202.6,927.3 1203.4,928.4 1204.1,929.5C1204.9,930.6 1205.7,931.7 1206.4,932.8C1207.2,933.9 1208.0,935.0 1208.7,936.1C1209.4,937.2 1210.2,938.3 1210.9,939.4C1211.6,940.6 1212.2,941.7 1212.9,942.9C1213.5,944.0 1214.1,945.2 1214.6,946.4C1215.2,947.6 1215.7,948.9 1216.2,950.1C1216.7,951.3 1217.1,952.6 1217.5,953.9C1217.9,955.1 1218.2,956.4 1218.5,957.7C1218.8,959.0 1219.1,960.3 1219.3,961.6C1219.6,962.9 1219.8,964.2 1219.9,965.5C1220.1,966.9 1220.2,968.2 1220.3,969.5C1220.5,970.8 1220.5,972.2 1220.6,973.5C1220.6,974.8 1220.7,976.1 1220.7,977.5C1220.7,978.8 1220.6,980.1 1220.6,981.5C1220.6,982.8 1220.5,984.1 1220.4,985.5C1220.3,986.8 1220.2,988.1 1220.1,989.4C1220.0,990.8 1219.8,992.1 1219.7,993.4C1219.5,994.7 1219.4,996.1 1219.2,997.4C1219.0,998.7 1218.7,1000.0 1218.5,1001.3C1218.3,1002.6 1218.0,1003.9 1217.7,1005.2C1217.4,1006.5 1217.0,1007.8 1216.7,1009.1C1216.4,1010.4 1216.0,1011.7 1215.6,1012.9C1215.3,1014.2 1214.9,1015.5 1214.5,1016.8C1214.1,1018.1 1213.7,1019.3 1213.3,1020.6C1212.9,1021.9 1212.5,1023.1 1212.1,1024.4C1211.7,1025.7 1211.3,1026.9 1210.8,1028.2C1210.4,1029.4 1209.9,1030.7 1209.5,1031.9C1209.0,1033.2 1208.5,1034.4 1208.0,1035.7C1207.5,1036.9 1207.0,1038.1 1206.5,1039.4C1205.9,1040.6 1205.4,1041.8 1204.8,1043.0C1204.2,1044.2 1203.7,1045.4 1203.1,1046.6C1202.5,1047.8 1201.9,1049.0 1201.3,1050.2C1200.7,1051.4 1200.1,1052.6 1199.5,1053.7C1198.9,1054.9 1198.3,1056.1 1197.7,1057.3C1197.1,1058.5 1196.5,1059.7 1195.9,1060.9C1195.3,1062.1 1194.7,1063.3 1194.1,1064.4C1193.5,1065.6 1192.8,1066.8 1192.2,1068.0C1191.6,1069.1 1190.9,1070.3 1190.2,1071.5C1189.6,1072.6 1188.9,1073.8 1188.2,1074.9C1187.5,1076.1 1186.9,1077.2 1186.2,1078.3C1185.5,1079.5 1184.7,1080.6 1184.0,1081.7C1183.3,1082.8 1182.5,1083.9 1181.8,1085.0C1181.0,1086.1 1180.2,1087.2 1179.4,1088.2C1178.6,1089.3 1177.8,1090.3 1177.0,1091.4C1176.2,1092.4 1175.3,1093.5 1174.5,1094.5C1173.7,1095.6 1172.9,1096.6 1172.1,1097.7C1171.3,1098.8 1170.5,1099.8 1169.7,1100.9C1168.9,1102.0 1168.1,1103.0 1167.3,1104.1C1166.5,1105.2 1165.7,1106.3 1165.0,1107.4C1164.2,1108.5 1163.4,1109.5 1162.6,1110.6C1161.9,1111.7 1161.1,1112.8 1160.3,1113.9C1159.5,1114.9 1158.7,1116.0 1157.9,1117.1C1157.1,1118.1 1156.3,1119.2 1155.4,1120.2C1154.6,1121.3 1153.8,1122.3 1152.9,1123.3C1152.1,1124.4 1151.3,1125.4 1150.4,1126.5C1149.6,1127.5 1148.7,1128.5 1147.9,1129.5C1147.0,1130.6 1146.2,1131.6 1145.3,1132.6C1144.4,1133.6 1143.5,1134.6 1142.7,1135.6C1141.8,1136.6 1140.9,1137.6 1140.0,1138.6C1139.1,1139.6 1138.2,1140.6 1137.4,1141.6C1136.5,1142.6 1135.6,1143.6 1134.7,1144.6C1133.9,1145.6 1133.0,1146.6 1132.1,1147.6C1131.3,1148.7 1130.4,1149.7 1129.6,1150.7C1128.7,1151.7 1127.9,1152.8 1127.1,1153.8C1126.2,1154.8 1125.4,1155.9 1124.5,1156.9C1123.7,1157.9 1122.8,1159.0 1121.9,1160.0C1121.1,1161.0 1120.2,1162.0 1119.3,1162.9C1118.4,1163.9 1117.5,1164.9 1116.5,1165.8C1115.6,1166.8 1114.7,1167.7 1113.7,1168.7C1112.8,1169.6 1111.9,1170.6 1110.9,1171.5C1110.0,1172.5 1109.0,1173.4 1108.1,1174.4C1107.1,1175.3 1106.2,1176.2 1105.3,1177.2C1104.3,1178.1 1103.4,1179.1 1102.5,1180.1C1101.5,1181.0 1100.6,1182.0 1099.7,1182.9C1098.8,1183.9 1097.9,1184.9 1097.0,1185.8C1096.0,1186.8 1094.7,1188.3 1094.2,1188.8"/>
<path stroke="#0000ff" d="M465.7,296.4C466.3,296.6 468.3,297.1 469.5,297.5C470.8,297.9 472.1,298.2 473.4,298.6C474.6,299.0 475.9,299.5 477.1,299.9C478.4,300.4 479.6,300.8 480.9,301.3C482.1,301.8 483.3,302.4 484.5,302.9C485.8,303.5 487.0,304.0 488.2,304.6C489.4,305.2 490.6,305.7 491.8,306.3C493.0,306.9 494.1,307.6 495.3,308.2C496.5,308.8 497.7,309.4 498.8,310.1C500.0,310.7 501.2,311.4 502.3,312.0C503.5,312.7 504.6,313.4 505.7,314.1C506.9,314.8 508.0,315.5 509.1,316.2C510.3,316.9 511.4,317.6 512.5,318.4C513.6,319.1 514.7,319.8 515.8,320.6C516.9,321.3 518.0,322.1 519.1,322.9C520.2,323.6 521.3,324.4 522.4,325.2C523.4,326.0 524.5,326.8 525.6,327.6C526.6,328.4 527.7,329.2 528.7,330.0C529.8,330.8 530.8,331.7 531.9,332.5C532.9,333.4 533.9,334.2 534.9,335.1C535.9,336.0 536.9,336.9 537.8,337.8C538.8,338.7 539.8,339.6 540.7,340.5C541.7,341.5 542.6,342.4 543.6,343.4C544.5,344.3 545.4,345.3 546.3,346.3C547.2,347.2 548.1,348.2 549.0,349.2C549.9,350.2 550.8,351.2 551.7,352.2C552.5,353.2 553.4,354.2 554.3,355.2C555.2,356.2 556.0,357.2 556.9,358.3C557.8,359.3 558.6,360.3 559.5,361.3C560.4,362.3 561.2,363.3 562.1,364.4C562.9,365.4 563.8,366.4 564.6,367.4C565.5,368.5 566.3,369.5 567.1,370.5C568.0,371.6 568.8,372.6 569.6,373.7C570.5,374.7 571.3,375.8 572.1,376.8C572.9,377.9 573.7,379.0 574.5,380.0C575.3,381.1 576.1,382.2 576.9,383.3C577.6,384.3 578.4,385.4 579.2,386.5C580.0,387.6 580.8,388.7 581.5,389.7C582.3,390.8 583.1,391.9 583.9,393.0C584.7,394.1 585.5,395.1 586.3,396.2C587.1,397.2 587.9,398.3 588.7,399.3C589.5,400.4 590.4,401.4 591.2,402.5C592.0,403.5 592.9,404.6 593.7,405.6C594.5,406.7 595.3,407.7 596.2,408.8C597.0,409.8 597.8,410.9 598.6,411.9C599.4,413.0 600.2,414.1 601.0,415.1C601.8,416.2 602.5,417.3 603.3,418.4C604.1,419.5 604.9,420.6 605.6,421.6C606.4,422.7 607.2,423.8 607.9,424.9C608.7,426.0 609.4,427.1 610.2,428.2C610.9,429.3 611.6,430.5 612.4,431.6C613.1,432.7 613.8,433.8 614.5,434.9C615.2,436.1 615.9,437.2 616.6,438.3C617.3,439.5 618.1,440.6 618.8,441.7C619.5,442.8 620.2,443.9 621.0,445.0C621.7,446.2 622.5,447.3 623.2,448.4C624.0,449.5 624.7,450.6 625.5,451.6C626.3,452.7 627.0,453.8 627.8,454.9C628.6,455.9 629.5,457.0 630.3,458.0C631.1,459.1 631.9,460.1 632.8,461.2C633.6,462.2 634.4,463.2 635.2,464.3C636.0,465.4 636.8,466.4 637.6,467.5C638.3,468.6 639.1,469.7 639.8,470.8C640.5,471.9 641.3,473.0 642.0,474.2C642.7,475.3 643.4,476.4 644.1,477.5C644.8,478.7 645.5,479.8 646.2,480.9C646.9,482.1 647.6,483.2 648.3,484.4C649.0,485.5 649.6,486.7 650.3,487.8C650.9,489.0 651.5,490.2 652.2,491.3C652.8,492.5 653.5,493.7 654.1,494.9C654.7,496.0 655.4,497.2 656.0,498.4C656.7,499.5 657.4,500.7 658.0,501.8C658.7,503.0 659.4,504.1 660.0,505.3C660.7,506.4 661.4,507.6 662.1,508.7C662.8,509.9 663.5,511.0 664.2,512.1C664.8,513.3 665.5,514.4 666.2,515.6C666.9,516.7 667.6,517.9 668.3,519.0C668.9,520.2 669.6,521.3 670.3,522.4C671.0,523.6 671.7,524.7 672.3,525.9C673.0,527.0 673.7,528.2 674.4,529.3C675.0,530.5 675.7,531.6 676.4,532.8C677.0,534.0 677.7,535.1 678.3,536.3C679.0,537.5 679.6,538.6 680.2,539.8C680.9,541.0 681.5,542.1 682.1,543.3C682.8,544.5 683.4,545.7 684.0,546.9C684.6,548.0 685.3,549.2 685.9,550.4C686.6,551.5 687.2,552.7 687.9,553.8C688.6,555.0 689.3,556.1 689.9,557.3C690.6,558.4 691.3,559.6 692.0,560.7C692.7,561.8 693.4,563.0 694.0,564.1C694.7,565.3 695.4,566.4 696.0,567.6C696.7,568.8 697.4,569.9 698.0,571.1C698.7,572.2 699.3,573.4 699.9,574.6C700.6,575.8 701.2,576.9 701.9,578.1C702.5,579.3 703.1,580.5 703.7,581.6C704.3,582.8 704.9,584.0 705.6,585.2C706.2,586.4 706.8,587.6 707.4,588.8C708.0,589.9 708.6,591.1 709.2,592.3C709.8,593.5 710.4,594.7 711.0,595.9C711.6,597.1 712.2,598.3 712.8,599.5C713.4,600.6 714.0,601.8 714.7,603.0C715.3,604.1 716.0,605.3 716.7,606.4C717.4,607.5 718.1,608.6 718.9,609.7C719.6,610.8 720.4,611.9 721.1,613.0C721.9,614.1 722.7,615.2 723.5,616.3C724.2,617.4 725.0,618.5 725.8,619.5C726.6,620.6 727.3,621.7 728.1,622.8C728.9,623.9 729.6,625.0 730.4,626.1C731.2,627.2 731.9,628.3 732.7,629.3C733.5,630.4 734.2,631.5 735.0,632.6C735.8,633.7 736.5,634.8 737.3,635.9C738.0,637.0 738.8,638.1 739.6,639.2C740.3,640.3 741.1,641.4 741.9,642.5C742.6,643.6 743.4,644.7 744.1,645.8C744.9,646.9 745.6,648.0 746.4,649.1C747.2,650.1 747.9,651.2 748.7,652.3C749.4,653.4 750.2,654.5 750.9,655.6C751.7,656.7 752.5,657.8 753.2,658.9C754.0,660.0 754.7,661.1 755.5,662.2C756.2,663.3 756.9,664.5 757.6,665.6C758.3,666.7 759.0,667.9 759.6,669.0C760.3,670.2 760.9,671.4 761.6,672.5C762.2,673.7 762.8,674.9 763.5,676.0C764.1,677.2 764.7,678.4 765.4,679.6C766.0,680.7 766.6,681.9 767.3,683.1C767.9,684.2 768.6,685.4 769.2,686.6C769.9,687.7 770.6,688.9 771.3,690.0C771.9,691.2 772.6,692.3 773.3,693.4C774.0,694.6 774.7,695.7 775.4,696.8C776.1,698.0 776.9,699.1 777.6,700.2C778.3,701.3 779.0,702.5 779.7,703.6C780.4,704.7 781.1,705.9 781.8,707.0C782.5,708.1 783.2,709.3 783.8,710.4C784.5,711.6 785.2,712.8 785.8,713.9C786.5,715.1 787.1,716.2 787.7,717.4C788.4,718.6 789.0,719.8 789.6,721.0C790.2,722.1 790.8,723.3 791.4,724.5C792.0,725.7 792.6,726.9 793.2,728.1C793.8,729.3 794.4,730.5 795.1,731.6C795.7,732.8 796.3,734.0 796.9,735.2C797.6,736.3 798.3,737.5 798.9,738.6C799.6,739.8 800.3,740.9 801.0,742.0C801.7,743.2 802.4,744.3 803.1,745.4C803.8,746.6 804.5,747.7 805.3,748.8C806.0,749.9 806.7,751.1 807.4,752.2C808.2,753.3 808.9,754.4 809.7,755.5C810.5,756.5 811.3,757.6 812.1,758.6C812.9,759.7 813.8,760.7 814.6,761.7C815.5,762.7 816.4,763.7 817.3,764.6C818.3,765.6 819.2,766.5 820.2,767.4C821.1,768.4 822.1,769.3 823.1,770.2C824.1,771.1 825.2,772.2 826.0,772.9C826.9,773.6 827.4,773.9 828.0,774.4C828.6,774.8 829.1,775.2 829.6,775.6C830.2,776.0 830.7,776.3 831.2,776.8C831.7,777.2 832.2,777.6 832.7,778.1C833.2,778.6 833.6,779.1 834.0,779.6C834.3,780.1 834.6,780.7 834.7,781.3C834.8,781.9 834.7,782.6 834.7,783.2C834.7,783.8 834.6,784.5 834.9,784.9C835.1,785.4 835.7,785.6 836.3,785.9C836.8,786.2 837.5,786.4 838.2,786.5C838.8,786.7 839.4,786.8 840.1,787.0C840.8,787.1 841.4,787.1 842.1,787.2C842.7,787.3 843.4,787.4 844.1,787.5C844.7,787.6 845.4,787.7 846.0,787.8C846.7,788.0 847.3,788.2 848.0,788.4C848.6,788.5 849.2,788.7 849.9,788.9C850.5,789.1 851.1,789.3 851.7,789.6C852.3,789.9 852.8,790.3 853.4,790.7C853.9,791.1 854.4,791.5 854.9,791.9C855.5,792.4 856.0,792.8 856.5,793.2C857.0,793.6 857.5,794.1 858.0,794.5C858.5,795.0 858.9,795.5 859.4,795.9C859.9,796.4 860.4,796.9 860.8,797.3C861.3,797.8 861.8,798.2 862.3,798.7C862.8,799.2 863.3,799.6 863.7,800.1C864.2,800.5 864.7,801.0 865.2,801.4C865.7,801.9 866.2,802.3 866.7,802.8C867.2,803.2 867.7,803.7 868.1,804.2C868.6,804.6 869.1,805.1 869.6,805.5C870.1,806.0 870.6,806.5 871.0,806.9C871.5,807.4 872.0,807.9 872.4,808.3C872.9,808.8 873.4,809.3 873.9,809.8C874.3,810.2 874.8,810.7 875.3,811.2C875.7,811.6 876.2,812.1 876.6,812.6C877.1,813.1 877.5,813.6 877.9,814.2C878.3,814.7 878.7,815.2 879.1,815.7C879.6,816.3 880.0,816.8 880.4,817.3C880.8,817.8 881.2,818.4 881.6,818.9C882.0,819.4 882.4,820.0 882.7,820.5C883.1,821.1 883.5,821.7 883.8,822.2C884.2,822.8 884.6,823.3 884.9,823.9C885.3,824.4 885.7,825.0 886.0,825.6C886.4,826.1 886.7,826.7 887.1,827.2C887.4,827.8 887.8,828.4 888.1,829.0C888.5,829.5 888.8,830.1 889.1,830.7C889.4,831.3 889.7,831.9 890.1,832.5C890.4,833.0 890.7,833.6 891.0,834.2C891.4,834.8 891.7,835.4 892.0,835.9C892.4,836.5 892.7,837.1 893.1,837.6C893.4,838.2 893.8,838.8 894.1,839.3C894.5,839.9 894.9,840.5 895.2,841.0C895.5,841.6 895.9,842.2 896.2,842.8C896.5,843.3 896.8,843.9 897.1,844.5C897.4,845.1 897.7,845.7 898.0,846.3C898.3,846.9 898.6,847.5 898.9,848.1C899.2,848.7 899.5,849.3 899.8,849.9C900.1,850.5 900.4,851.1 900.7,851.7C901.0,852.3 901.3,852.9 901.6,853.5C902.0,854.0 902.3,854.6 902.8,855.0C903.2,855.4 903.8,855.7 904.4,856.0C905.0,856.3 905.6,856.6 906.2,856.8C906.8,856.9 907.5,856.9 908.1,856.9C908.7,856.9 909.4,856.7 910.1,856.7C910.7,856.7 911.4,856.7 912.0,856.8C912.6,856.9 913.2,857.2 913.8,857.5C914.4,857.7 915.0,858.0 915.6,858.3C916.2,858.6 916.8,859.0 917.3,859.4C917.8,859.8 918.4,860.2 918.9,860.6C919.4,861.0 919.9,861.4 920.4,861.8C921.0,862.3 921.5,862.7 922.0,863.1C922.5,863.5 923.0,863.9 923.6,864.3C924.1,864.8 924.6,865.2 925.1,865.6C925.7,866.0 926.2,866.4 926.7,866.8C927.2,867.2 927.8,867.6 928.3,868.0C928.8,868.4 929.4,868.8 929.9,869.2C930.4,869.6 931.0,870.0 931.5,870.4C932.0,870.8 932.6,871.2 933.1,871.6C933.6,872.1 934.1,872.5 934.6,873.0C935.0,873.5 935.4,874.0 935.8,874.5C936.2,875.1 936.6,875.6 937.0,876.1C937.4,876.7 937.8,877.2 938.1,877.8C938.5,878.3 938.8,878.9 939.1,879.5C939.5,880.1 939.8,880.7 940.1,881.3C940.4,881.9 940.7,882.5 941.0,883.0C941.3,883.6 941.6,884.2 942.0,884.8C942.4,885.3 942.8,885.8 943.2,886.3C943.6,886.8 944.1,887.3 944.5,887.8C945.0,888.3 945.4,888.8 945.9,889.3C946.4,889.7 946.9,890.1 947.4,890.6C947.9,891.0 948.5,891.4 949.0,891.8C949.5,892.2 950.1,892.6 950.6,893.0C951.1,893.4 951.7,893.8 952.2,894.2C952.8,894.5 953.3,894.9 953.9,895.2C954.5,895.5 955.1,895.7 955.8,896.0C956.4,896.2 957.0,896.5 957.6,896.7C958.2,897.0 958.8,897.2 959.5,897.5C960.1,897.8 960.7,898.0 961.3,898.3C961.9,898.6 962.5,898.8 963.1,899.2C963.7,899.5 964.2,899.9 964.8,900.2C965.3,900.6 965.9,901.0 966.4,901.4C966.9,901.8 967.5,902.2 968.0,902.6C968.5,903.0 969.1,903.4 969.6,903.8C970.1,904.2 970.6,904.6 971.1,905.0C971.7,905.5 972.2,905.9 972.7,906.3C973.2,906.7 973.8,907.1 974.3,907.5C974.8,907.9 975.3,908.3 975.9,908.8C976.4,909.2 976.9,909.6 977.4,910.0C977.9,910.4 978.5,910.8 979.0,911.3C979.5,911.7 979.9,912.2 980.3,912.7C980.8,913.2 981.2,913.7 981.6,914.3C982.0,914.8 982.4,915.3 982.8,915.8C983.2,916.4 983.6,916.9 984.0,917.4C984.4,917.9 984.9,918.5 985.3,919.0C985.7,919.5 986.1,920.1 986.5,920.6C986.9,921.1 987.4,921.6 987.9,922.0C988.4,922.4 989.0,922.7 989.6,923.0C990.1,923.3 990.7,923.6 991.3,923.8C992.0,924.0 992.6,924.1 993.2,924.1C993.9,924.2 994.6,924.0 995.2,924.0C995.9,924.0 996.5,923.9 997.1,924.1C997.7,924.2 998.3,924.6 998.8,924.9C999.3,925.3 999.9,925.7 1000.4,926.2C1000.9,926.6 1001.4,927.0 1001.8,927.5C1002.3,928.0 1002.7,928.5 1003.1,929.0C1003.5,929.6 1003.9,930.1 1004.3,930.7C1004.7,931.2 1005.0,931.7 1005.5,932.2C1006.0,932.6 1006.5,932.9 1007.1,933.2C1007.7,933.5 1008.3,933.7 1009.0,934.0C1009.6,934.2 1010.2,934.4 1010.9,934.6C1011.5,934.8 1012.2,934.9 1012.8,935.1C1013.4,935.3 1014.1,935.4 1014.6,935.7C1015.2,936.0 1015.7,936.4 1016.2,936.8C1016.7,937.3 1017.1,937.8 1017.5,938.3C1018.0,938.8 1018.4,939.3 1018.9,939.7C1019.4,940.2 1019.8,940.7 1020.3,941.2C1020.8,941.6 1021.3,942.1 1021.7,942.6C1022.2,943.1 1022.6,943.5 1023.0,944.1C1023.3,944.6 1023.5,945.3 1023.8,945.9C1024.0,946.5 1024.1,947.2 1024.4,947.8C1024.6,948.4 1024.8,949.0 1025.2,949.5C1025.6,950.0 1026.2,950.3 1026.7,950.7C1027.2,951.1 1027.8,951.4 1028.4,951.8C1028.9,952.2 1029.5,952.5 1030.0,952.9C1030.6,953.3 1031.1,953.7 1031.7,954.1C1032.2,954.5 1032.7,954.8 1033.2,955.3C1033.7,955.7 1034.2,956.2 1034.7,956.7C1035.1,957.2 1035.5,957.7 1035.9,958.2C1036.3,958.7 1036.8,959.2 1037.1,959.8C1037.4,960.4 1037.7,961.0 1038.0,961.6C1038.2,962.2 1038.5,962.8 1038.7,963.4C1038.9,964.1 1039.2,964.7 1039.4,965.3C1039.6,966.0 1039.7,966.6 1039.9,967.3C1040.0,967.9 1040.1,968.6 1040.3,969.2C1040.4,969.9 1040.5,970.5 1040.6,971.2C1040.7,971.8 1040.8,972.5 1040.9,973.2C1040.9,973.8 1041.0,974.5 1041.0,975.2C1041.0,975.8 1041.1,976.5 1041.1,977.2C1041.1,977.8 1041.1,978.5 1041.1,979.1C1041.0,979.8 1041.0,980.5 1040.9,981.1C1040.8,981.8 1040.8,982.5 1040.7,983.1C1040.6,983.8 1040.6,984.4 1040.4,985.1C1040.3,985.8 1040.1,986.4 1040.0,987.0C1039.8,987.7 1039.6,988.3 1039.4,989.0C1039.2,989.6 1039.0,990.2 1038.9,990.9C1038.7,991.5 1038.5,992.2 1038.2,992.8C1038.0,993.4 1037.7,994.0 1037.4,994.6C1037.1,995.2 1036.8,995.8 1036.5,996.4C1036.3,997.0 1036.0,997.6 1035.7,998.2C1035.4,998.8 1035.1,999.4 1034.8,1000.0C1034.4,1000.5 1034.0,1001.1 1033.6,1001.6C1033.2,1002.1 1032.7,1002.6 1032.3,1003.0C1031.8,1003.5 1031.3,1004.0 1030.9,1004.5C1030.4,1005.0 1029.9,1005.4 1029.5,1005.9C1029.0,1006.4 1028.5,1006.9 1028.1,1007.4C1027.7,1007.9 1027.3,1008.4 1026.9,1009.0C1026.5,1009.5 1026.2,1010.1 1025.9,1010.7C1025.5,1011.2 1025.2,1011.8 1024.9,1012.4C1024.5,1013.0 1024.2,1013.5 1023.8,1014.1C1023.5,1014.7 1023.2,1015.3 1022.8,1015.8C1022.5,1016.4 1022.1,1017.0 1021.7,1017.5C1021.4,1018.1 1021.0,1018.6 1020.6,1019.2C1020.2,1019.7 1019.9,1020.3 1019.5,1020.8C1019.1,1021.4 1018.8,1021.9 1018.4,1022.5C1018.0,1023.1 1017.7,1023.6 1017.3,1024.2C1016.9,1024.7 1016.6,1025.3 1016.2,1025.9C1015.9,1026.4 1015.5,1027.0 1015.2,1027.6C1014.8,1028.1 1014.5,1028.7 1014.1,1029.3C1013.8,1029.8 1013.5,1030.4 1013.1,1031.0C1012.7,1031.5 1012.4,1032.1 1011.9,1032.5C1011.5,1033.0 1010.9,1033.3 1010.3,1033.6C1009.8,1033.9 1009.1,1034.1 1008.5,1034.3C1007.9,1034.6 1007.3,1034.8 1006.7,1035.1C1006.0,1035.3 1005.4,1035.6 1004.8,1035.9C1004.3,1036.2 1003.7,1036.6 1003.2,1037.0C1002.7,1037.4 1002.3,1037.9 1001.8,1038.4C1001.3,1038.9 1000.9,1039.4 1000.4,1039.8C999.9,1040.3 999.5,1040.8 999.0,1041.3C998.5,1041.7 998.1,1042.2 997.6,1042.7C997.1,1043.1 996.6,1043.6 996.1,1044.0C995.6,1044.4 995.0,1044.7 994.4,1045.1C993.9,1045.4 993.3,1045.7 992.7,1046.1C992.1,1046.4 991.5,1046.8 991.0,1047.1C990.4,1047.4 989.8,1047.8 989.3,1048.2C988.8,1048.6 988.3,1049.0 987.8,1049.5C987.4,1049.9 986.9,1050.5 986.5,1051.0C986.1,1051.5 985.7,1052.0 985.2,1052.5C984.8,1053.0 984.4,1053.5 983.9,1054.0C983.5,1054.6 983.1,1055.1 982.7,1055.6C982.2,1056.1 981.8,1056.6 981.4,1057.1C981.0,1057.6 980.5,1058.1 980.1,1058.7C979.7,1059.2 979.3,1059.7 978.8,1060.2C978.4,1060.7 978.0,1061.2 977.6,1061.7C977.1,1062.3 976.7,1062.8 976.3,1063.3C975.9,1063.8 975.5,1064.3 975.0,1064.8C974.6,1065.4 974.2,1065.9 973.7,1066.4C973.3,1066.8 972.8,1067.2 972.2,1067.6C971.7,1067.9 971.0,1068.2 970.5,1068.5C969.9,1068.8 969.3,1069.1 968.7,1069.4C968.1,1069.7 967.5,1070.0 966.9,1070.3C966.3,1070.6 965.7,1070.9 965.1,1071.2C964.5,1071.5 964.0,1071.9 963.4,1072.3C962.9,1072.7 962.5,1073.2 962.0,1073.6C961.5,1074.1 961.0,1074.6 960.6,1075.0C960.1,1075.5 959.6,1076.0 959.1,1076.5C958.7,1076.9 958.2,1077.4 957.7,1077.9C957.3,1078.3 956.8,1078.8 956.4,1079.3C955.9,1079.8 955.5,1080.3 955.1,1080.9C954.7,1081.4 954.3,1081.9 953.9,1082.5C953.5,1083.0 953.2,1083.6 952.8,1084.1C952.4,1084.7 952.0,1085.2 951.6,1085.7C951.2,1086.3 950.8,1086.8 950.4,1087.4C950.1,1087.9 949.7,1088.5 949.3,1089.0C948.9,1089.5 948.5,1090.0 948.0,1090.5C947.6,1091.0 947.0,1091.4 946.5,1091.8C946.0,1092.3 945.5,1092.7 945.0,1093.1C944.5,1093.5 943.9,1093.9 943.4,1094.4C942.9,1094.8 942.4,1095.2 941.9,1095.6C941.3,1096.0 940.8,1096.4 940.2,1096.8C939.7,1097.2 939.1,1097.5 938.6,1097.8C938.0,1098.2 937.4,1098.5 936.8,1098.9C936.3,1099.2 935.7,1099.5 935.1,1099.9C934.5,1100.2 934.0,1100.5 933.4,1100.9C932.9,1101.3 932.4,1101.7 931.9,1102.2C931.4,1102.6 930.9,1103.1 930.4,1103.6C930.0,1104.0 929.5,1104.5 929.0,1105.0C928.6,1105.4 928.1,1105.9 927.6,1106.4C927.1,1106.9 926.7,1107.3 926.2,1107.8C925.7,1108.3 925.2,1108.7 924.7,1109.2C924.3,1109.6 923.7,1110.1 923.2,1110.5C922.7,1110.9 922.2,1111.4 921.7,1111.8C921.2,1112.2 920.7,1112.6 920.2,1113.1C919.7,1113.5 919.2,1113.9 918.6,1114.4C918.1,1114.8 917.6,1115.2 917.1,1115.6C916.6,1116.1 916.1,1116.5 915.6,1116.9C915.1,1117.3 914.5,1117.8 914.0,1118.2C913.5,1118.6 913.0,1119.0 912.5,1119.5C912.0,1119.9 911.5,1120.3 911.0,1120.7C910.4,1121.2 909.9,1121.6 909.4,1122.0C908.9,1122.4 908.4,1122.9 907.9,1123.3C907.3,1123.7 906.8,1124.1 906.3,1124.5C905.7,1124.8 905.1,1125.1 904.5,1125.4C903.9,1125.7 903.3,1125.9 902.7,1126.2C902.1,1126.4 901.4,1126.7 900.8,1127.0C900.2,1127.2 899.6,1127.5 899.0,1127.8C898.4,1128.0 897.8,1128.3 897.2,1128.5C896.6,1128.8 896.0,1129.1 895.4,1129.5C894.8,1129.8 894.3,1130.2 893.8,1130.6C893.3,1131.0 892.8,1131.5 892.3,1131.9C891.7,1132.3 891.2,1132.8 890.7,1133.2C890.2,1133.6 889.7,1134.0 889.2,1134.5C888.7,1134.9 888.1,1135.3 887.6,1135.7C887.1,1136.2 886.6,1136.6 886.1,1137.0C885.6,1137.5 885.2,1138.0 884.7,1138.4C884.2,1138.9 883.7,1139.4 883.3,1139.9C882.8,1140.3 882.3,1140.8 881.9,1141.3C881.4,1141.7 880.9,1142.2 880.5,1142.7C880.0,1143.2 879.5,1143.6 879.1,1144.1C878.6,1144.6 878.1,1145.1 877.6,1145.5C877.2,1146.0 876.7,1146.4 876.1,1146.8C875.6,1147.2 875.1,1147.6 874.5,1148.0C874.0,1148.4 873.4,1148.8 872.9,1149.2C872.3,1149.5 871.8,1149.9 871.3,1150.3C870.7,1150.7 870.2,1151.1 869.6,1151.5C869.1,1151.9 868.5,1152.2 868.0,1152.6C867.4,1153.0 866.9,1153.4 866.3,1153.8C865.8,1154.2 865.2,1154.5 864.7,1154.9C864.1,1155.3 863.6,1155.6 863.0,1156.0C862.5,1156.4 861.9,1156.8 861.4,1157.1C860.8,1157.5 860.3,1157.9 859.7,1158.2C859.1,1158.6 858.6,1159.0 858.0,1159.3C857.5,1159.7 856.9,1160.1 856.4,1160.4C855.8,1160.8 855.2,1161.1 854.6,1161.4C854.1,1161.8 853.5,1162.1 852.9,1162.4C852.3,1162.8 851.7,1163.1 851.2,1163.4C850.6,1163.8 850.0,1164.1 849.4,1164.4C848.9,1164.8 848.3,1165.1 847.7,1165.4C847.1,1165.8 846.6,1166.1 846.0,1166.5C845.5,1166.9 845.0,1167.3 844.5,1167.7C844.0,1168.2 843.5,1168.6 843.0,1169.1C842.5,1169.5 842.0,1170.0 841.5,1170.4C841.0,1170.9 840.5,1171.3 840.0,1171.8C839.5,1172.2 839.0,1172.7 838.6,1173.1C838.1,1173.6 837.6,1174.0 837.1,1174.5C836.6,1174.9 836.1,1175.4 835.6,1175.8C835.1,1176.3 834.6,1176.7 834.1,1177.2C833.6,1177.6 833.1,1178.0 832.6,1178.5C832.1,1178.9 831.6,1179.4 831.1,1179.8C830.6,1180.3 830.1,1180.7 829.6,1181.2C829.1,1181.6 828.7,1182.1 828.2,1182.5C827.7,1183.0 827.2,1183.4 826.7,1183.8C826.2,1184.3 825.7,1184.7 825.2,1185.2C824.7,1185.6 824.2,1186.1 823.7,1186.5C823.2,1187.0 822.6,1187.5 822.2,1187.9C821.9,1188.2 821.6,1188.4 821.5,1188.6"/>
</g>
<g fill="none" stroke="#000" stroke-linecap="round" stroke-width="10.4">
<path d="M981.2,514.0 L995.0,524.6 M1016.3,540.9 L1030.1,551.6 M1051.7,568.1 L1065.5,578.7 M1086.5,594.8 L1100.3,605.4 M1121.1,621.3 L1134.9,632.0 M1156.2,648.3 L1170.0,658.9 M1191.2,675.1 L1205.0,685.8 M1227.1,702.7 L1240.9,713.3 M1263.2,730.4 L1277.0,741.0 M1299.3,758.1 L1313.1,768.7 M1335.4,785.8 L1349.2,796.4 M1370.6,812.8 L1384.4,823.5 M1403.8,838.3 L1417.6,848.9 M1440.0,866.1 L1453.8,876.7 M1476.4,894.0 L1490.2,904.6 M1512.4,921.6 L1526.2,932.3 M1549.1,949.8 L1562.9,960.4"/>
<path d="M924.7,693.5 L939.5,705.5 M961.3,723.3 L976.1,735.3 M998.1,753.3 L1012.9,765.3 M1034.8,783.2 L1049.6,795.2 M1071.9,813.4 L1086.7,825.4 M1108.7,843.4 L1123.5,855.4 M1145.8,873.6 L1160.6,885.6 M1168.6,892.5 L1183.4,904.5 M1205.4,921.9 L1220.2,933.9 M1242.3,951.6 L1257.1,963.6"/>
<path d="M862.4,812.9 L874.4,823.5 M889.0,836.2 L901.0,846.8 M915.8,860.1 L927.8,870.7 M944.1,884.6 L956.1,895.2 M972.3,909.6 L984.3,920.2 M1000.7,934.6 L1012.7,945.2 M1026.6,956.9 L1038.6,967.5"/>
<circle cx="1584.7" cy="977.8" r="5.6" fill="#000" stroke="none"/>
</g>
<g class="tk" text-anchor="end">
<text x="285" y="1197.0">-1000000</text>
<text x="285" y="992.1">0</text>
<text x="285" y="786.4">1000000</text>
<text x="285" y="580.2">2000000</text>
<text x="285" y="374.6">3000000</text>
<text x="285" y="169.0">4000000</text>
</g>
<g class="tk" text-anchor="middle">
<text x="322.5" y="1258">60000</text>
<text x="515.4" y="1258">100000</text>
<text x="756.5" y="1258">150000</text>
<text x="997.6" y="1258">200000</text>
<text x="1238.8" y="1258">250000</text>
<text x="1479.9" y="1258">300000</text>
<text x="1721.0" y="1258">350000</text>
</g>
<g fill="none" stroke-linecap="round" stroke-width="8">
<path stroke="#ff0000" d="M1385.5,119.5 H1516.5"/>
<path stroke="#00ff00" d="M1385.5,191.2 H1516.5"/>
<path stroke="#0000ff" d="M1385.5,264.5 H1516.5"/>
</g>
<text class="lg" transform="translate(1530.6,139.6) scale(0.965,1)" x="0.00 30.78 61.55 91.40 112.95">400°C</text>
<text class="lg" transform="translate(1530.6,211.4) scale(0.965,1)" x="0.00 30.78 61.55 91.40 112.95">450°C</text>
<text class="lg" transform="translate(1530.6,283.2) scale(0.965,1)" x="0.00 30.78 61.55 91.40 112.95">500°C</text>
<text class="it" transform="translate(900.25,1331.80) scale(1,0.9)" font-size="58.4">σ</text>
<text transform="translate(0,1331.90) scale(1,0.9)" font-size="60"><tspan x="929.40" y="-25.22" font-size="40">2</tspan><tspan x="949.50 968.35 1021.25 1054.10" y="0.00">(MPa</tspan><tspan x="1079.70" y="-25.22" font-size="40">2</tspan><tspan x="1099.50" y="0.00">)</tspan></text>
<g transform="translate(76.80,732.30) rotate(-90)">
<text class="it" transform="scale(1,0.98)" font-size="59">σ</text>
<text class="it" transform="translate(29.50,0) scale(1.08,0.97)" font-size="60">θ</text>
<text font-size="60"><tspan x="58.30 77.15 130.05 163.60" y="0.00">(MPa</tspan><tspan x="189.40" y="-23.60" font-size="40">2</tspan><tspan x="208.30" y="0.00">)</tspan></text>
</g>
<text transform="translate(0,1435.8) scale(0.94,1)" font-size="86"><tspan x="913.19" y="0.00">(</tspan><tspan x="942.13" y="0.00" font-weight="bold">a</tspan><tspan x="985.43" y="0.00">)</tspan></text>
</svg>
</body></html>
